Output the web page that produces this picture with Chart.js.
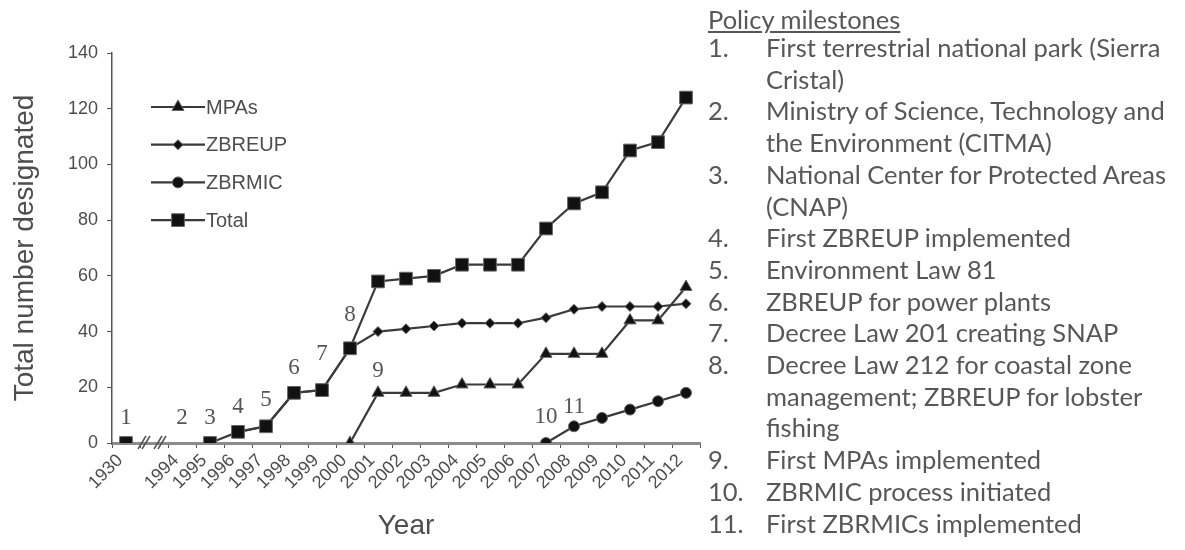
<!DOCTYPE html>
<html>
<head>
<meta charset="utf-8">
<title>Protected areas designated</title>
<script src="https://cdn.jsdelivr.net/npm/chart.js@4.4.1/dist/chart.umd.min.js"></script>
<style>
  body { margin: 0; background: #fff; }
  #wrap { position: relative; width: 1185px; height: 550px; overflow: hidden; }
  #chart { position: absolute; left: 0; top: 0; }
  #milestones {
    position: absolute; left: 708px; top: 6px;
    font-family: Lato, "Open Sans", sans-serif; font-size: 25.5px; line-height: 31.7px;
    color: #575757; white-space: nowrap;
  }
  #milestones .head { text-decoration: underline; line-height: 26px; }
  #milestones .item { position: relative; padding-left: 58px; }
  #milestones .num { position: absolute; left: 0; }
</style>
</head>
<body>
<div id="wrap">
  <canvas id="chart" width="1185" height="550"></canvas>
  <div id="milestones"></div>
</div>
<script>
// x categories ('' is the axis break between 1930 and 1994)
const years = ['1930', '', '1994', '1995', '1996', '1997', '1998', '1999', '2000', '2001', '2002',
  '2003', '2004', '2005', '2006', '2007', '2008', '2009', '2010', '2011', '2012'];

const mpas   = [null, null, null, null, null, null, null, null, 0, 18, 18, 18, 21, 21, 21, 32, 32, 32, 44, 44, 56];
const zbreup = [null, null, null, null, 4, 6, 18, 19, 34, 40, 41, 42, 43, 43, 43, 45, 48, 49, 49, 49, 50];
const zbrmic = [null, null, null, null, null, null, null, null, null, null, null, null, null, null, null, 0, 6, 9, 12, 15, 18];
const total  = [0, null, null, 0, 4, 6, 18, 19, 34, 58, 59, 60, 64, 64, 64, 77, 86, 90, 105, 108, 124];

const yTicks = [0, 20, 40, 60, 80, 100, 120, 140];

// numbered milestones placed in the plot: year and height (in data units)
const milestoneNumbers = ['1', '2', '3', '4', '5', '6', '7', '8', '9', '10', '11'];
const milestoneYears   = ['1930', '1994', '1995', '1996', '1997', '1998', '1999', '2000', '2001', '2007', '2008'];
const milestoneLevels  = [9, 9, 9, 13, 15.5, 27, 32, 46, 26, 9.5, 13];

const milestoneText = [
  ['First terrestrial  national park (Sierra', 'Cristal)'],
  ['Ministry of Science, Technology and', 'the Environment (CITMA)'],
  ['National Center for Protected Areas', '(CNAP)'],
  ['First ZBREUP implemented'],
  ['Environment Law 81'],
  ['ZBREUP for power plants'],
  ['Decree  Law 201 creating SNAP'],
  ['Decree  Law 212 for coastal zone', 'management; ZBREUP  for lobster', 'fishing'],
  ['First MPAs implemented'],
  ['ZBRMIC process initiated'],
  ['First ZBRMICs implemented']
];

// right hand list
let html = '<div class="head">Policy milestones</div>';
milestoneText.forEach((lines, i) => {
  html += `<div class="item"><span class="num">${i + 1}.</span>${lines.join('<br>')}</div>`;
});
document.getElementById('milestones').innerHTML = html;

const FONT = '"Liberation Sans", Arial, sans-serif';
const TEXT = '#4d4d4d';

function series(label, data, style, radius) {
  return {
    label: label,
    data: data,
    borderColor: '#3a3a3a',
    borderWidth: 2.2,
    pointStyle: style,
    pointRadius: radius,
    pointHoverRadius: radius,
    pointBackgroundColor: '#111',
    pointBorderColor: '#666',
    pointBorderWidth: 1,
    spanGaps: false,
    tension: 0
  };
}

const legendOrder = ['MPAs', 'ZBREUP', 'ZBRMIC', 'Total'];

const insideLegend = {
  id: 'insideLegend',
  afterDatasetsDraw(chart) {
    const ctx = chart.ctx;
    ctx.save();
    legendOrder.forEach((name, i) => {
      const ds = chart.data.datasets.find(d => d.label === name);
      const y = 107 + i * 37.7;
      ctx.strokeStyle = ds.borderColor;
      ctx.lineWidth = 2.2;
      ctx.beginPath();
      ctx.moveTo(151, y);
      ctx.lineTo(205, y);
      ctx.stroke();
      ctx.fillStyle = ds.pointBackgroundColor;
      ctx.strokeStyle = ds.pointBorderColor;
      ctx.lineWidth = 1;
      Chart.helpers.drawPoint(ctx, { pointStyle: ds.pointStyle, radius: ds.pointRadius, rotation: 0, borderWidth: 1 }, 178, y);
      ctx.fillStyle = TEXT;
      ctx.font = '20px ' + FONT;
      ctx.textAlign = 'left';
      ctx.textBaseline = 'middle';
      ctx.fillText(name, 206, y + 1);
    });
    ctx.restore();
  }
};

const milestoneMarks = {
  id: 'milestoneMarks',
  afterDraw(chart) {
    const { ctx, scales: { x, y } } = chart;
    ctx.save();
    ctx.fillStyle = '#555';
    ctx.font = '23px "Liberation Serif", serif';
    ctx.textAlign = 'center';
    ctx.textBaseline = 'middle';
    milestoneNumbers.forEach((n, i) => {
      const px = x.getPixelForValue(years.indexOf(milestoneYears[i]));
      ctx.fillText(n, px, y.getPixelForValue(milestoneLevels[i]));
    });
    // axis break marks
    const gx = x.getPixelForValue(years.indexOf(''));
    const gy = y.getPixelForValue(0);
    ctx.strokeStyle = '#555';
    ctx.lineWidth = 1.5;
    [-10, 6].forEach(dx => {
      [-2, 2].forEach(o => {
        ctx.beginPath();
        ctx.moveTo(gx + dx + o - 4, gy + 6);
        ctx.lineTo(gx + dx + o + 4, gy - 7);
        ctx.stroke();
      });
    });
    ctx.restore();
  }
};

new Chart(document.getElementById('chart'), {
  type: 'line',
  data: {
    labels: years,
    datasets: [
      series('Total', total, 'rect', 9),
      series('ZBRMIC', zbrmic, 'circle', 5.5),
      series('ZBREUP', zbreup, 'rectRot', 5),
      series('MPAs', mpas, 'triangle', 7)
    ]
  },
  options: {
    responsive: false,
    animation: false,
    devicePixelRatio: 1,
    layout: { padding: { top: 53, right: 485, left: 0, bottom: 0 } },
    plugins: {
      legend: { display: false },
      tooltip: { enabled: false }
    },
    scales: {
      x: {
        offset: true,
        grid: { offset: true, drawOnChartArea: false, drawTicks: true, tickLength: 5, color: '#555', lineWidth: 1 },
        border: { color: '#8c8c8c', width: 3 },
        ticks: {
          autoSkip: false, maxRotation: 45, minRotation: 45, padding: 2, labelOffset: -6,
          color: TEXT, font: { family: FONT, size: 18 }
        },
        title: {
          display: true, text: 'Year', color: TEXT,
          font: { family: FONT, size: 28 }, padding: { top: 0, bottom: 7 }
        },
        afterFit: s => { s.height = 107; }
      },
      y: {
        min: 0,
        max: 140,
        afterBuildTicks: s => { s.ticks = yTicks.map(v => ({ value: v })); },
        grid: { drawOnChartArea: false, tickLength: 5, color: '#555' },
        border: { color: '#555', width: 1.5 },
        ticks: { padding: 9, color: TEXT, font: { family: FONT, size: 18 } },
        title: {
          display: true, text: 'Total number designated', color: TEXT,
          font: { family: FONT, size: 28 }, padding: { top: 8, bottom: 0 }
        },
        afterFit: s => { s.width = 112; }
      }
    }
  },
  plugins: [insideLegend, milestoneMarks]
});
</script>
</body>
</html>
